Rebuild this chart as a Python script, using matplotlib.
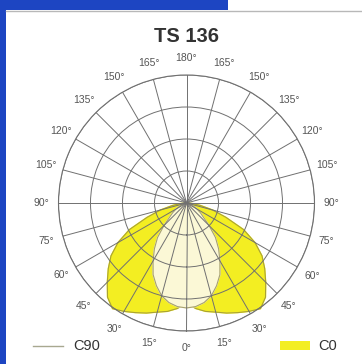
import numpy as np
import matplotlib
matplotlib.use("Agg")
import matplotlib.pyplot as plt
from matplotlib.patches import Rectangle
from matplotlib.lines import Line2D

plt.rcParams['font.family'] = ['Liberation Sans', 'DejaVu Sans']

# ---- data (radial units: rings at 100, 200, 300, 400) ----
title = "TS 136"
angles_deg = [0, 5, 10, 15, 20, 25, 30, 35, 40, 45, 50, 55, 60, 65, 70, 75, 80, 85, 90]
c0_values = [312, 331, 344, 353, 366, 378, 391, 403, 384, 350, 319, 288, 247, 197, 131, 84, 44, 19, 0]
c90_values = [328, 325, 316, 300, 275, 247, 209, 175, 141, 100, 69, 53, 38, 25, 16, 9, 6, 3, 0]
ring_values = [100, 200, 300, 400]
tick_angles = list(range(0, 360, 15))
tick_labels = [f"{a if a <= 180 else 360 - a}°" for a in tick_angles]
legend_labels = ["C90", "C0"]

W, H = 362, 364
fig = plt.figure(figsize=(W / 100, H / 100), dpi=100)
fig.patch.set_facecolor('white')

def fx(x):
    return x / W

def fy(y):
    return (H - y) / H

# frame decorations
blue = '#1d45c2'
fig.add_artist(Rectangle((fx(0), fy(364)), 6 / W, 364 / H, transform=fig.transFigure,
                         color=blue, lw=0, zorder=0))
fig.add_artist(Rectangle((fx(0), fy(10)), 228 / W, 10 / H, transform=fig.transFigure,
                         color=blue, lw=0, zorder=0))
fig.add_artist(Line2D([fx(6), fx(362)], [fy(11), fy(11)], transform=fig.transFigure,
                      color='#b8b8b8', lw=1.0))

# polar axes: centre (186.5, 203) px, radius 128 px
cx, cy, R = 186.5, 203, 128
ax = fig.add_axes([fx(cx - R), fy(cy + R), 2 * R / W, 2 * R / H], projection='polar')
ax.set_theta_zero_location('S')
ax.set_theta_direction(1)
ax.set_ylim(0, 400)

ang = np.array(angles_deg, dtype=float)
c0 = np.array(c0_values, dtype=float)
c90 = np.array(c90_values, dtype=float)
theta = np.deg2rad(np.concatenate([-ang[::-1], ang[1:]]))
r0 = np.concatenate([c0[::-1], c0[1:]])
r90 = np.concatenate([c90[::-1], c90[1:]])

ax.fill(theta, r0, color='#f3ee22', zorder=1, clip_on=False)
ax.plot(theta, r0, color='#a9a235', lw=0.8, zorder=1.2, clip_on=False)
ax.fill(theta, r90, color='#fbf8d6', zorder=1.4)
ax.plot(theta, r90, color='#a6a070', lw=0.8, zorder=1.6)

grid_col = '#707070'
ax.set_axisbelow(False)
ax.set_rgrids(ring_values, labels=[''] * len(ring_values))
ax.set_thetagrids(tick_angles, labels=[''] * len(tick_angles))
ax.grid(True, color=grid_col, lw=0.7)
ax.spines['polar'].set_color(grid_col)
ax.spines['polar'].set_linewidth(0.8)
ax.tick_params(length=0, pad=0)
ax.set_facecolor('white')

label_r = 400 * 145 / 128
for a, lab in zip(tick_angles, tick_labels):
    ax.text(np.deg2rad(a), label_r, lab, ha='center', va='center', fontsize=7.5,
            color='#555555', clip_on=False)

# title
fig.text(fx(186.5), fy(36), title, ha='center', va='center', fontsize=14.5,
         fontweight='bold', color='#333333')

# legend
fig.add_artist(Line2D([fx(33), fx(63)], [fy(346), fy(346)], transform=fig.transFigure,
                      color='#a8a890', lw=1.0))
fig.text(fx(73), fy(346), legend_labels[0], ha='left', va='center', fontsize=10.5,
         color='#333333')
fig.add_artist(Rectangle((fx(280), fy(350)), 30 / W, 9 / H, transform=fig.transFigure,
                         color='#f3ee22', lw=0))
fig.text(fx(318), fy(346), legend_labels[1], ha='left', va='center', fontsize=10.5,
         color='#333333')

fig.savefig('out.png', dpi=100, facecolor='white')
